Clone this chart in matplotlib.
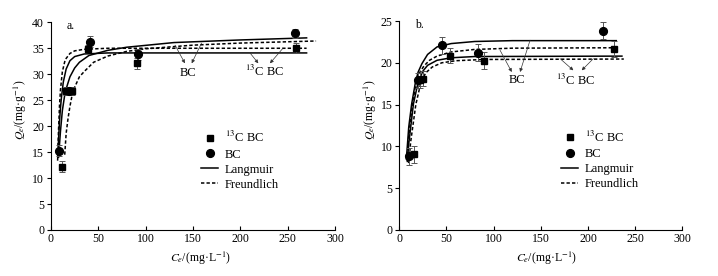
import matplotlib
matplotlib.use('Agg')
import matplotlib.pyplot as plt
from matplotlib.lines import Line2D

plt.rcParams['font.family'] = ['Liberation Serif', 'DejaVu Serif']
plt.rcParams['mathtext.fontset'] = 'stix'

# ---------------- Panel a: measured points ----------------
a_c13_x = [12, 16, 22, 39, 91, 259]
a_c13_y = [12.2, 26.8, 26.8, 34.9, 32.1, 35.0]
a_c13_err = [1.0, 0.8, 0.8, 0.7, 1.0, 1.0]
a_bc_x = [8, 19, 41, 92, 258]
a_bc_y = [15.3, 26.8, 36.3, 33.8, 37.9]
a_bc_err = [1.0, 0.8, 1.0, 1.0, 0.9]

# Panel a: fitted curves
a_c13_lang_x = [7, 8, 9, 10, 11, 13, 16, 20, 25, 35, 60, 270]
a_c13_lang_y = [13.5, 17.5, 21.0, 23.5, 25.5, 28.5, 31.0, 32.6, 33.4, 33.9, 34.1, 34.1]
a_c13_freu_x = [7, 8, 9, 10, 12, 15, 20, 25, 35, 60, 270]
a_c13_freu_y = [14.0, 19.5, 24.0, 27.0, 30.5, 32.8, 34.0, 34.5, 34.8, 35.0, 35.0]
a_bc_lang_x = [8, 10, 12, 15, 20, 25, 30, 40, 60, 80, 130, 200, 270]
a_bc_lang_y = [14.0, 19.0, 23.0, 26.6, 29.5, 31.2, 32.3, 33.6, 34.6, 35.2, 36.1, 36.6, 37.0]
a_bc_freu_x = [14.5, 16, 18, 20, 22, 25, 30, 35, 45, 60, 80, 100, 150, 200, 280]
a_bc_freu_y = [14.5, 18.6, 21.5, 23.8, 25.7, 27.5, 29.5, 30.5, 32.3, 33.5, 34.4, 34.9, 35.6, 36.0, 36.4]

# ---------------- Panel b: measured points ----------------
b_c13_x = [15.6, 22, 25.5, 54, 90, 228]
b_c13_y = [9.05, 17.9, 18.1, 20.85, 20.25, 21.65]
b_c13_err = [1.0, 0.9, 0.9, 0.9, 1.0, 1.0]
b_bc_x = [10.3, 19.5, 45, 83, 216]
b_bc_y = [8.8, 17.9, 22.1, 21.2, 23.85]
b_bc_err = [1.0, 0.9, 1.0, 1.0, 1.05]

# Panel b: fitted curves
b_bc_lang_x = [7.5, 10, 13, 17, 20, 24, 30, 40, 55, 80, 120, 230]
b_bc_lang_y = [8.5, 12.3, 15.0, 17.6, 18.9, 19.9, 21.0, 21.9, 22.3, 22.55, 22.65, 22.65]
b_bc_freu_x = [8, 10, 14, 18, 22, 26, 32, 40, 55, 80, 120, 230]
b_bc_freu_y = [8.3, 11.2, 15.2, 17.7, 18.9, 19.6, 20.3, 20.8, 21.3, 21.6, 21.75, 21.8]
b_c13_lang_x = [8.5, 10, 15, 20, 25, 30, 40, 55, 80, 236]
b_c13_lang_y = [8.2, 10.3, 15.1, 17.7, 19.0, 19.7, 20.3, 20.6, 20.75, 20.8]
b_c13_freu_x = [10, 12, 17.5, 23, 28, 35, 45, 60, 90, 238]
b_c13_freu_y = [8.0, 10.5, 15.0, 17.7, 18.8, 19.5, 20.0, 20.25, 20.4, 20.45]

x_ticks = [0, 50, 100, 150, 200, 250, 300]
a_y_ticks = [0, 5, 10, 15, 20, 25, 30, 35, 40]
b_y_ticks = [0, 5, 10, 15, 20, 25]

lab_c13 = r'$^{13}$C BC'
lab_bc = 'BC'

FS = 8.5
fig = plt.figure(figsize=(7.18, 2.76), dpi=100)
axa = fig.add_axes([51/718, 1-230/276, 284/718, 207.7/276])
axb = fig.add_axes([399.3/718, 1-230/276, 283/718, 209/276])

LW = 1.1
DASH = (0, (2.2, 1.4))


def draw(ax, c13, bc, curves, ylim, yticks, tag, ann_bc, ann_c13, leg_x):
    for xs, ys, ls in curves:
        ax.plot(xs, ys, color='black', lw=LW, linestyle=ls, zorder=2)
    x, y, e = c13
    ax.errorbar(x, y, yerr=e, fmt='s', color='black', ms=5, ecolor='#555555',
                elinewidth=0.7, capsize=2, capthick=0.7, zorder=3)
    x, y, e = bc
    ax.errorbar(x, y, yerr=e, fmt='o', color='black', ms=5.6, ecolor='#555555',
                elinewidth=0.7, capsize=2, capthick=0.7, zorder=3)
    ax.set_xlim(0, 300)
    ax.set_ylim(*ylim)
    ax.set_xticks(x_ticks)
    ax.set_yticks(yticks)
    ax.spines['top'].set_visible(False)
    ax.spines['right'].set_visible(False)
    for s in ('left', 'bottom'):
        ax.spines[s].set_linewidth(0.8)
    ax.tick_params(axis='x', direction='in', length=3, width=0.8, labelsize=FS, pad=2)
    ax.tick_params(axis='y', direction='out', length=3, width=0.8, labelsize=FS, pad=2)
    ax.set_xlabel(r'$C_e$/(mg·L$^{-1}$)', fontsize=FS)
    ax.set_ylabel(r'$Q_e$/(mg·g$^{-1}$)', fontsize=FS)
    ax.text(0.055, 1.01, tag, transform=ax.transAxes, fontsize=FS, va='top', ha='left')
    # annotations
    for (txt, tx, ty, arrows) in (ann_bc, ann_c13):
        ax.text(tx, ty, txt, fontsize=FS + 0.5, ha='center', va='center')
        for (x0, y0, x1, y1) in arrows:
            ax.annotate('', xy=(x1, y1), xytext=(x0, y0),
                        arrowprops=dict(arrowstyle='-|>', color='#333333', lw=0.5,
                                        mutation_scale=5, shrinkA=0, shrinkB=0))
    handles = [
        Line2D([], [], marker='s', color='black', ls='none', ms=5),
        Line2D([], [], marker='o', color='black', ls='none', ms=5.6),
        Line2D([], [], color='black', lw=LW, ls='-'),
        Line2D([], [], color='black', lw=LW, ls=DASH),
    ]
    ax.legend(handles, [lab_c13, lab_bc, 'Langmuir', 'Freundlich'], loc='upper left',
              bbox_to_anchor=(leg_x, 0.48), frameon=False, fontsize=FS + 0.5,
              handlelength=1.4, handletextpad=0.5, labelspacing=0.25,
              borderpad=0, borderaxespad=0)


draw(axa, (a_c13_x, a_c13_y, a_c13_err), (a_bc_x, a_bc_y, a_bc_err),
     [(a_c13_lang_x, a_c13_lang_y, '-'), (a_bc_lang_x, a_bc_lang_y, '-'),
      (a_c13_freu_x, a_c13_freu_y, DASH), (a_bc_freu_x, a_bc_freu_y, DASH)],
     (0, 40), a_y_ticks, 'a.',
     ('BC', 145, 30.2, [(131, 35.6, 141.5, 32.1), (159, 36.0, 148.6, 32.1)]),
     (lab_c13, 226, 30.5, [(210, 34.15, 219, 32.1), (245, 35.0, 231.3, 32.1)]),
     0.528)

draw(axb, (b_c13_x, b_c13_y, b_c13_err), (b_bc_x, b_bc_y, b_bc_err),
     [(b_bc_lang_x, b_bc_lang_y, '-'), (b_c13_lang_x, b_c13_lang_y, '-'),
      (b_bc_freu_x, b_bc_freu_y, DASH), (b_c13_freu_x, b_c13_freu_y, DASH)],
     (0, 25), b_y_ticks, 'b.',
     ('BC', 124.5, 17.9, [(106.8, 21.5, 119.2, 18.9), (138.6, 22.7, 128, 18.9)]),
     (lab_c13, 186.3, 17.9, [(170.4, 20.5, 184.5, 19.1), (205.7, 20.5, 193.4, 19.1)]),
     0.571)

axa.yaxis.set_label_coords(-0.078, 0.578)
axa.xaxis.set_label_coords(0.525, -0.095)
axb.yaxis.set_label_coords(-0.073, 0.574)
axb.xaxis.set_label_coords(0.52, -0.095)

fig.savefig('out.png', dpi=100)
